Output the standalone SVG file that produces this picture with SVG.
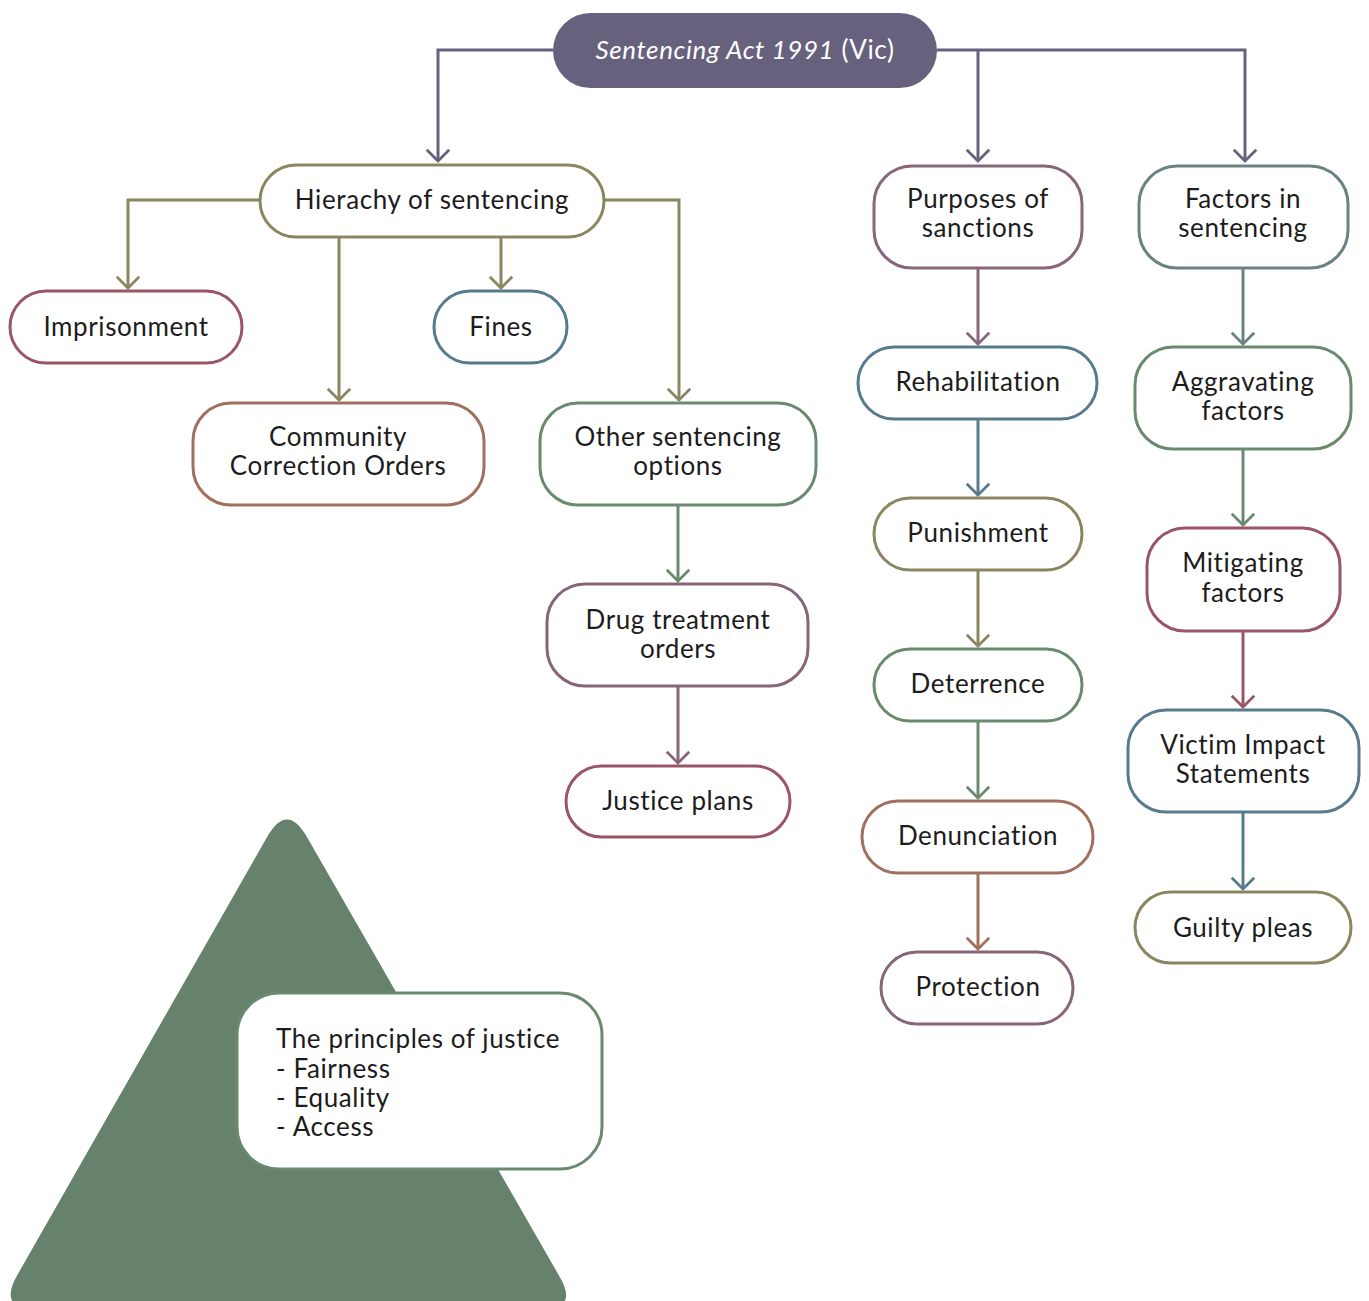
<svg xmlns="http://www.w3.org/2000/svg" width="1369" height="1301" viewBox="0 0 1369 1301">
  <style>
    .node { fill: #ffffff; stroke-width: 3; }
    .lbl { font-family: Lato, "Noto Sans", "Liberation Sans", sans-serif; font-size: 26px; letter-spacing: 0.6px; fill: #1c1c1c; text-anchor: middle; }
    .c { fill: none; stroke-width: 3; }
    .purple { stroke: #67617e; }
    .olive { stroke: #8b8660; }
    .red { stroke: #9a5666; }
    .blue { stroke: #587a8d; }
    .brown { stroke: #a0705e; }
    .green { stroke: #6a8a6f; }
    .mauve { stroke: #87657a; }
    .teal { stroke: #6a8283; }
  </style>
  <defs>
    <marker id="a-purple" markerUnits="userSpaceOnUse" markerWidth="30" markerHeight="30" refX="0" refY="0" viewBox="-16 -16 32 32" orient="auto"><path d="M-12,-12 L0,0 L-12,12" fill="none" stroke="#67617e" stroke-width="3"/></marker>
    <marker id="a-olive" markerUnits="userSpaceOnUse" markerWidth="30" markerHeight="30" refX="0" refY="0" viewBox="-16 -16 32 32" orient="auto"><path d="M-12,-12 L0,0 L-12,12" fill="none" stroke="#8b8660" stroke-width="3"/></marker>
    <marker id="a-red" markerUnits="userSpaceOnUse" markerWidth="30" markerHeight="30" refX="0" refY="0" viewBox="-16 -16 32 32" orient="auto"><path d="M-12,-12 L0,0 L-12,12" fill="none" stroke="#9a5666" stroke-width="3"/></marker>
    <marker id="a-blue" markerUnits="userSpaceOnUse" markerWidth="30" markerHeight="30" refX="0" refY="0" viewBox="-16 -16 32 32" orient="auto"><path d="M-12,-12 L0,0 L-12,12" fill="none" stroke="#587a8d" stroke-width="3"/></marker>
    <marker id="a-brown" markerUnits="userSpaceOnUse" markerWidth="30" markerHeight="30" refX="0" refY="0" viewBox="-16 -16 32 32" orient="auto"><path d="M-12,-12 L0,0 L-12,12" fill="none" stroke="#a0705e" stroke-width="3"/></marker>
    <marker id="a-green" markerUnits="userSpaceOnUse" markerWidth="30" markerHeight="30" refX="0" refY="0" viewBox="-16 -16 32 32" orient="auto"><path d="M-12,-12 L0,0 L-12,12" fill="none" stroke="#6a8a6f" stroke-width="3"/></marker>
    <marker id="a-mauve" markerUnits="userSpaceOnUse" markerWidth="30" markerHeight="30" refX="0" refY="0" viewBox="-16 -16 32 32" orient="auto"><path d="M-12,-12 L0,0 L-12,12" fill="none" stroke="#87657a" stroke-width="3"/></marker>
    <marker id="a-teal" markerUnits="userSpaceOnUse" markerWidth="30" markerHeight="30" refX="0" refY="0" viewBox="-16 -16 32 32" orient="auto"><path d="M-12,-12 L0,0 L-12,12" fill="none" stroke="#6a8283" stroke-width="3"/></marker>
  </defs>

  <rect width="1369" height="1301" fill="#ffffff"/>

  <!-- backdrop triangle behind the principles box -->
  <path id="triangle" d="M267.2,836.8 Q287,802 306.8,836.8 L558.8,1275.2 Q580,1310 540,1310 L37.4,1310 Q-2.6,1310 17.2,1275.2 Z" fill="#67826c"/>

  <g id="connectors">
    <path class="c purple" d="M553,50 H438 V161" marker-end="url(#a-purple)"/>
    <path class="c purple" d="M937,50 H1245 V161" marker-end="url(#a-purple)"/>
    <path class="c purple" d="M978,50 V161" marker-end="url(#a-purple)"/>
    <path class="c olive" d="M260,200 H128 V288" marker-end="url(#a-olive)"/>
    <path class="c olive" d="M339,237 V400" marker-end="url(#a-olive)"/>
    <path class="c olive" d="M501,237 V288" marker-end="url(#a-olive)"/>
    <path class="c olive" d="M604,200 H679 V400" marker-end="url(#a-olive)"/>
    <path class="c green" d="M678,505 V581" marker-end="url(#a-green)"/>
    <path class="c mauve" d="M678,686 V763" marker-end="url(#a-mauve)"/>
    <path class="c mauve" d="M978,268 V344" marker-end="url(#a-mauve)"/>
    <path class="c blue" d="M978,419 V495" marker-end="url(#a-blue)"/>
    <path class="c olive" d="M978,570 V646" marker-end="url(#a-olive)"/>
    <path class="c green" d="M978,721 V798" marker-end="url(#a-green)"/>
    <path class="c brown" d="M978,873 V949" marker-end="url(#a-brown)"/>
    <path class="c teal" d="M1243,268 V344" marker-end="url(#a-teal)"/>
    <path class="c green" d="M1243,449 V525" marker-end="url(#a-green)"/>
    <path class="c red" d="M1243,631 V707" marker-end="url(#a-red)"/>
    <path class="c blue" d="M1243,812 V889" marker-end="url(#a-blue)"/>
  </g>

  <g id="act">
    <rect x="553" y="13" width="384" height="75" rx="37.5" fill="#67617e"/>
    <text class="lbl" x="745" y="59" style="fill:#ffffff"><tspan font-style="italic">Sentencing Act 1991</tspan> (Vic)</text>
  </g>

  <g id="hierarchy">
    <rect class="node olive" x="260" y="165" width="344" height="72" rx="36"/>
    <text class="lbl" x="432" y="209">Hierachy of sentencing</text>
  </g>
  <g id="imprisonment">
    <rect class="node red" x="10" y="291" width="232" height="72" rx="36"/>
    <text class="lbl" x="126" y="336">Imprisonment</text>
  </g>
  <g id="fines">
    <rect class="node blue" x="434" y="291" width="133" height="72" rx="36"/>
    <text class="lbl" x="501" y="336">Fines</text>
  </g>
  <g id="cco">
    <rect class="node brown" x="193" y="403" width="291" height="102" rx="38"/>
    <text class="lbl" x="338" y="446">Community</text>
    <text class="lbl" x="338" y="475">Correction Orders</text>
  </g>
  <g id="other-options">
    <rect class="node green" x="540" y="403" width="276" height="102" rx="38"/>
    <text class="lbl" x="678" y="446">Other sentencing</text>
    <text class="lbl" x="678" y="475">options</text>
  </g>
  <g id="drug-orders">
    <rect class="node mauve" x="547" y="584" width="261" height="102" rx="38"/>
    <text class="lbl" x="678" y="629">Drug treatment</text>
    <text class="lbl" x="678" y="658">orders</text>
  </g>
  <g id="justice-plans">
    <rect class="node red" x="566" y="766" width="224" height="71" rx="35.5"/>
    <text class="lbl" x="678" y="810">Justice plans</text>
  </g>

  <g id="purposes">
    <rect class="node mauve" x="874" y="166" width="208" height="102" rx="38"/>
    <text class="lbl" x="978" y="208">Purposes of</text>
    <text class="lbl" x="978" y="237">sanctions</text>
  </g>
  <g id="rehabilitation">
    <rect class="node blue" x="858" y="347" width="239" height="72" rx="36"/>
    <text class="lbl" x="978" y="391">Rehabilitation</text>
  </g>
  <g id="punishment">
    <rect class="node olive" x="874" y="498" width="208" height="72" rx="36"/>
    <text class="lbl" x="978" y="542">Punishment</text>
  </g>
  <g id="deterrence">
    <rect class="node green" x="874" y="649" width="208" height="72" rx="36"/>
    <text class="lbl" x="978" y="693">Deterrence</text>
  </g>
  <g id="denunciation">
    <rect class="node brown" x="862" y="801" width="231" height="72" rx="36"/>
    <text class="lbl" x="978" y="845">Denunciation</text>
  </g>
  <g id="protection">
    <rect class="node mauve" x="881" y="952" width="192" height="72" rx="36"/>
    <text class="lbl" x="978" y="996">Protection</text>
  </g>

  <g id="factors">
    <rect class="node teal" x="1139" y="166" width="209" height="102" rx="38"/>
    <text class="lbl" x="1243" y="208">Factors in</text>
    <text class="lbl" x="1243" y="237">sentencing</text>
  </g>
  <g id="aggravating">
    <rect class="node green" x="1135" y="347" width="216" height="102" rx="38"/>
    <text class="lbl" x="1243" y="391">Aggravating</text>
    <text class="lbl" x="1243" y="420">factors</text>
  </g>
  <g id="mitigating">
    <rect class="node red" x="1147" y="528" width="193" height="103" rx="38"/>
    <text class="lbl" x="1243" y="572">Mitigating</text>
    <text class="lbl" x="1243" y="602">factors</text>
  </g>
  <g id="victim-impact">
    <rect class="node blue" x="1128" y="710" width="231" height="102" rx="38"/>
    <text class="lbl" x="1243" y="754">Victim Impact</text>
    <text class="lbl" x="1243" y="783">Statements</text>
  </g>
  <g id="guilty-pleas">
    <rect class="node olive" x="1135" y="892" width="216" height="71" rx="35.5"/>
    <text class="lbl" x="1243" y="937">Guilty pleas</text>
  </g>

  <g id="principles">
    <rect class="node green" x="237" y="993" width="365" height="176" rx="42"/>
    <text class="lbl" x="276" y="1048" style="text-anchor:start">The principles of justice</text>
    <text class="lbl" x="276" y="1078" style="text-anchor:start">- Fairness</text>
    <text class="lbl" x="276" y="1107" style="text-anchor:start">- Equality</text>
    <text class="lbl" x="276" y="1136" style="text-anchor:start">- Access</text>
  </g>
</svg>
